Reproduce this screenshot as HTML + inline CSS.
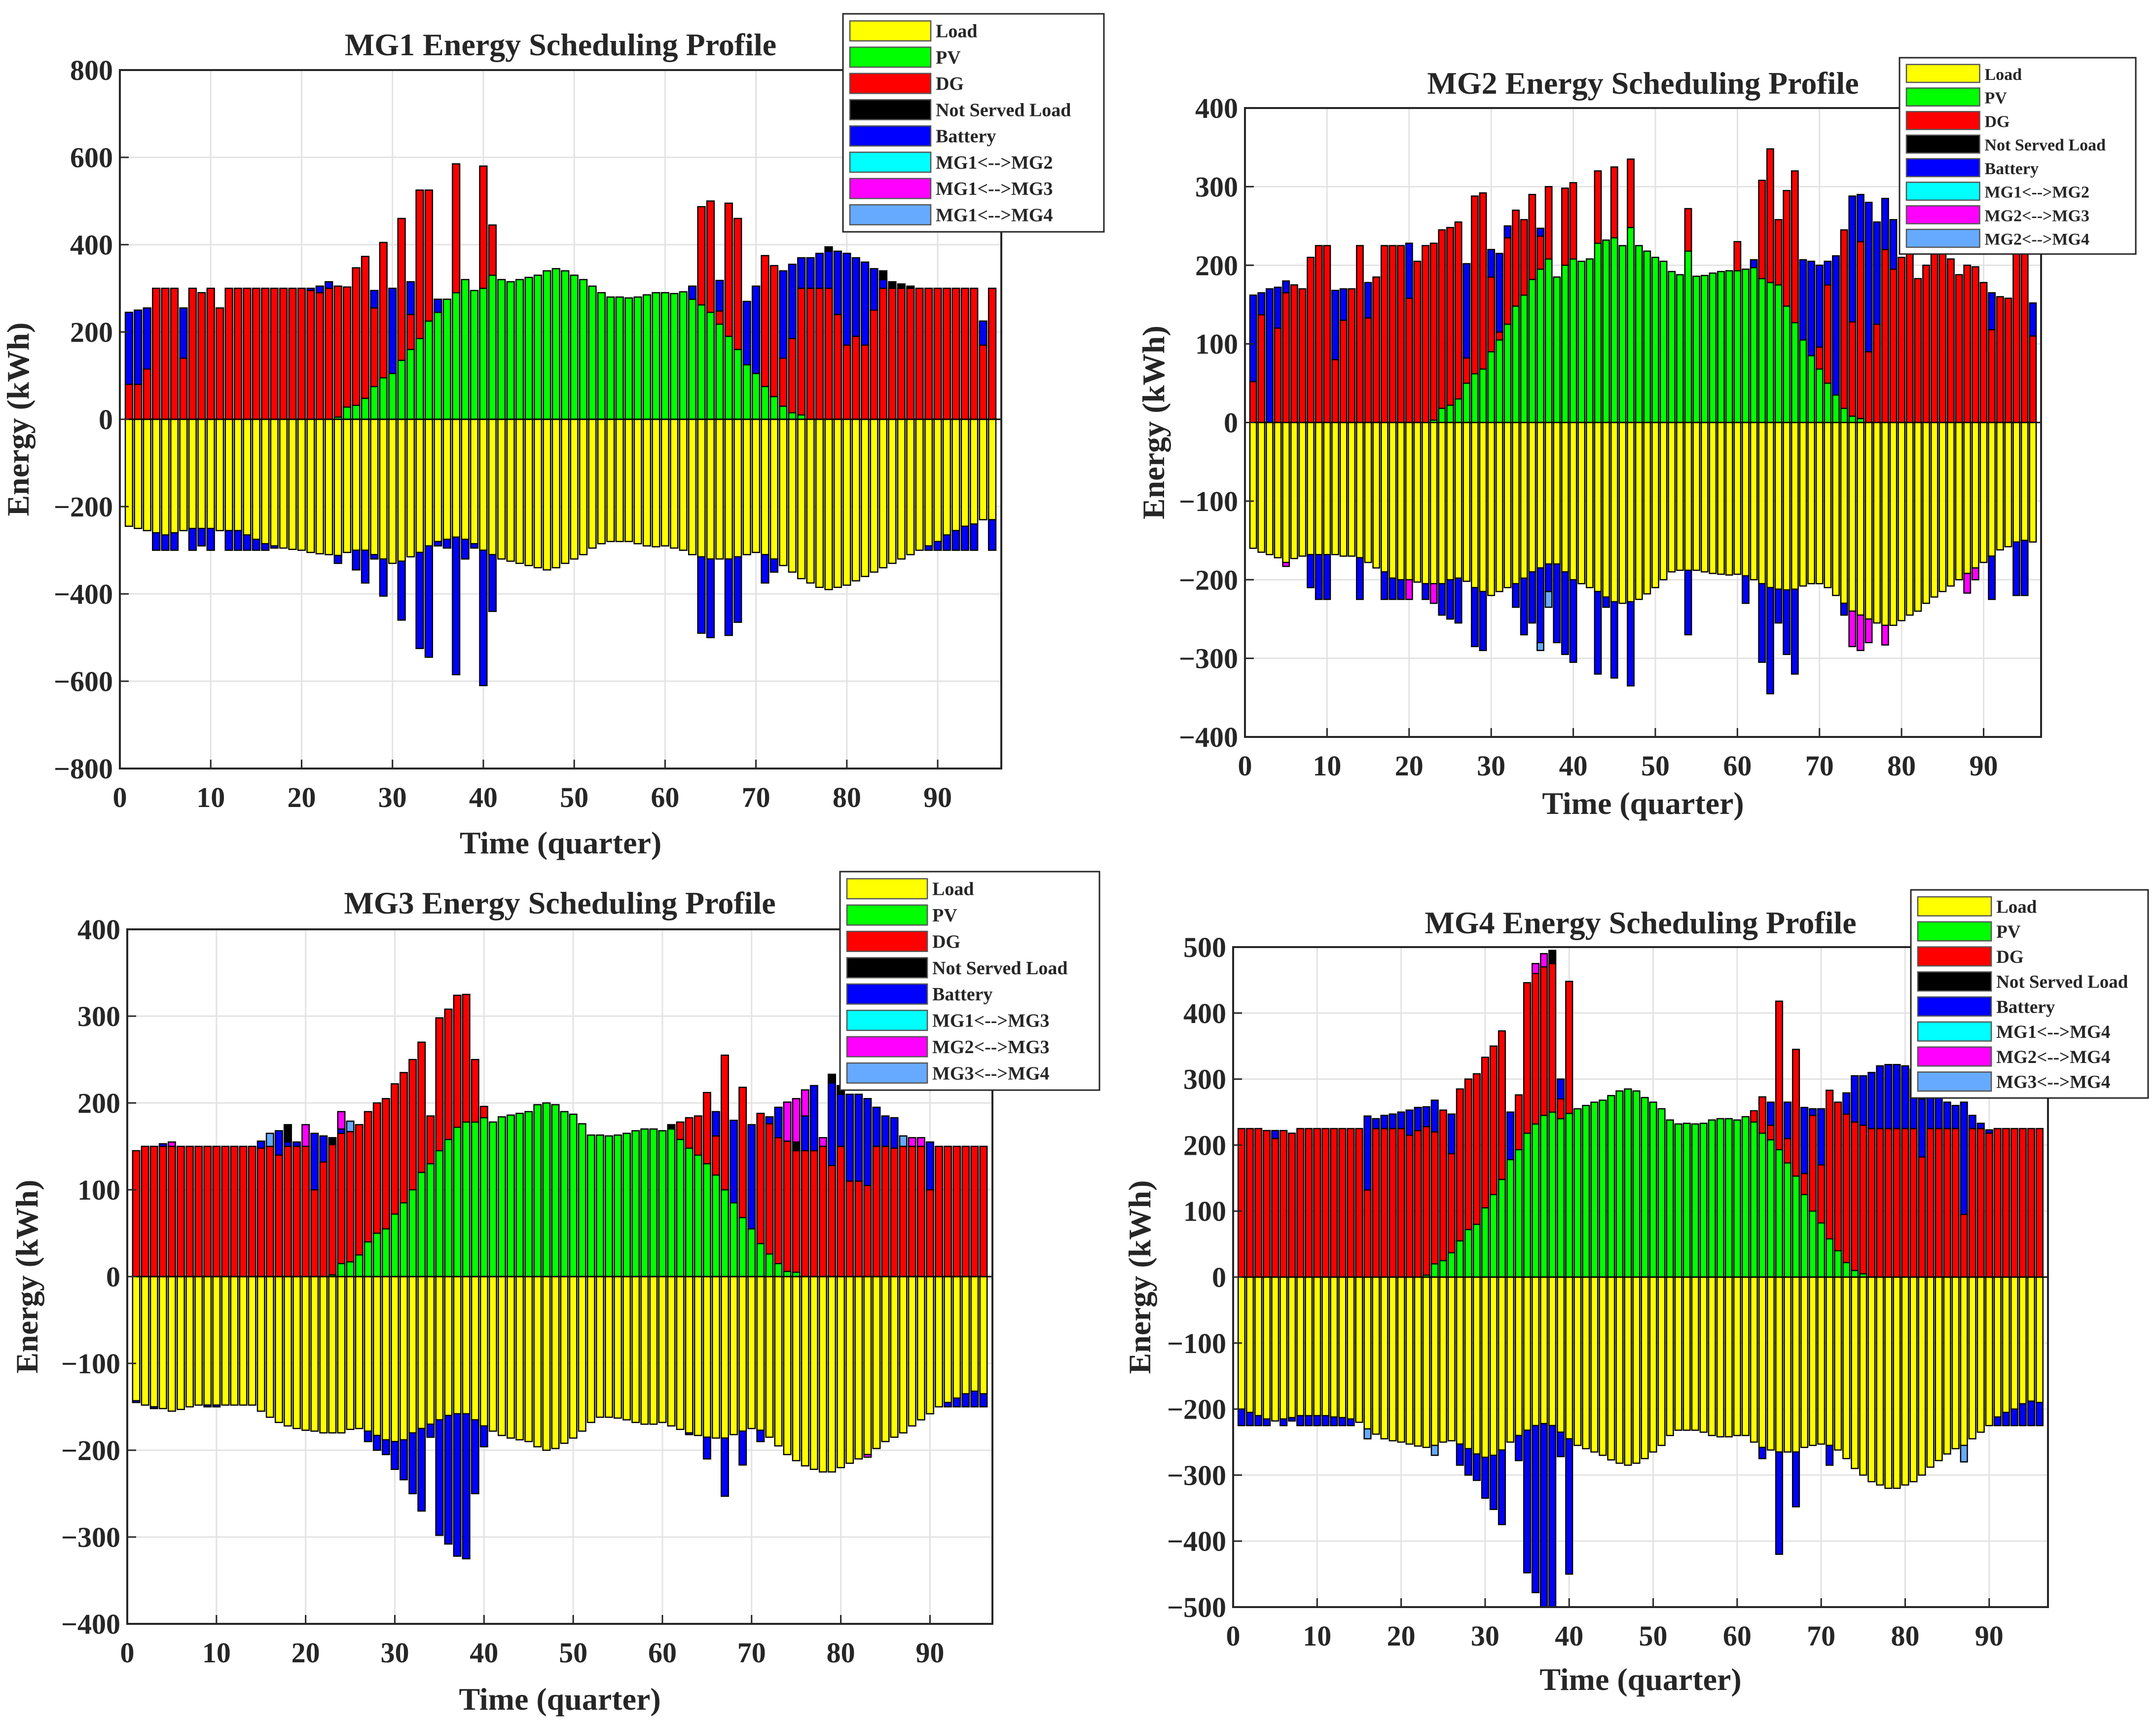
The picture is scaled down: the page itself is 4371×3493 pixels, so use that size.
<!DOCTYPE html>
<html><head><meta charset="utf-8"><style>
html,body{margin:0;padding:0;background:#fff;}
svg{display:block;}
text{font-family:"Liberation Serif",serif;font-weight:bold;fill:#262626;}
</style></head><body>
<svg id="fig" xmlns="http://www.w3.org/2000/svg" width="4371" height="3493" viewBox="0 0 4371 3493"></svg>
<script>
// ---------- MG1 data ----------
const mg1Load=[245,250,255,260,265,260,255,250,250,250,255,255,255,265,275,285,290,295,298,300,305,308,310,312,305,300,300,310,320,330,325,315,305,290,280,275,270,275,285,300,310,320,325,330,335,340,345,340,330,320,310,295,285,280,280,280,285,290,292,290,295,300,310,315,320,320,320,315,310,305,310,320,335,350,365,375,385,390,385,380,370,360,350,340,330,320,310,300,290,280,265,255,245,240,230,230];
const mg1Pv=[0,0,0,0,0,0,0,0,0,0,0,0,0,0,0,0,0,0,0,0,0,0,0,5,28,32,48,75,95,105,135,160,185,225,245,275,290,320,295,300,330,320,315,320,325,330,340,345,340,330,320,305,290,280,280,278,280,285,290,290,288,292,275,262,245,218,190,160,125,105,75,52,30,15,10,0,0,0,0,0,0,0,0,0,0,0,0,0,0,0,0,0,0,0,0,0];
const mg1Dg=[80,80,115,300,300,300,140,300,290,300,255,300,300,300,300,300,300,300,300,300,295,290,300,300,275,315,325,180,310,0,325,80,340,300,0,0,295,0,0,280,115,0,0,0,0,0,0,0,0,0,0,0,0,0,0,0,0,0,0,0,0,0,0,225,255,30,305,300,0,0,300,300,110,170,290,300,300,300,240,170,190,170,250,300,300,300,300,300,300,300,300,300,300,300,170,300];
const mg1BatDis=[[1,165],[2,170],[3,140],[7,115],[21,5],[22,15],[23,15],[28,40],[30,195],[32,75],[35,30],[63,30],[66,70],[69,145],[70,200],[73,200],[74,170],[75,70],[76,70],[77,80],[78,85],[79,145],[80,210],[81,180],[82,190],[83,95],[84,20],[95,55]];
const mg1Nsl=[[78,10],[84,20],[85,15],[86,10],[87,5]];
const mg1BatCh=[[4,40],[5,35],[6,40],[8,50],[9,40],[10,50],[12,45],[13,45],[14,35],[15,25],[16,15],[17,5],[24,18],[26,45],[27,75],[28,10],[29,85],[31,135],[33,220],[34,255],[35,10],[36,20],[37,315],[38,45],[39,10],[40,310],[41,130],[64,175],[65,180],[67,175],[68,150],[71,65],[72,30],[89,10],[90,20],[91,35],[92,45],[93,55],[94,60],[96,70]];
const mg1ExPos=[];const mg1ExNeg=[];const mg1Ex2Pos=[];const mg1Ex2Neg=[];

// ---------- MG2 data ----------
const mg2Load=[160,165,168,172,178,173,170,168,168,168,168,170,170,172,178,185,190,198,200,200,203,205,205,205,200,198,202,210,215,220,215,210,205,198,190,185,180,180,190,200,205,210,215,222,228,230,228,225,218,210,200,190,188,188,188,190,192,193,194,193,195,200,205,210,212,213,212,208,205,205,210,220,230,240,245,250,255,258,258,252,245,240,230,222,215,208,200,192,185,178,170,162,158,152,150,152];
const mg2Pv=[0,0,0,0,0,0,0,0,0,0,0,0,0,0,0,0,0,0,0,0,0,0,3,18,22,30,50,62,68,90,105,125,148,162,182,195,208,185,200,208,205,208,228,232,235,225,248,225,218,210,205,192,188,218,186,187,190,192,193,193,195,197,183,178,175,148,127,105,85,68,50,35,18,8,5,0,0,0,0,0,0,0,0,0,0,0,0,0,0,0,0,0,0,0,0,0];
const mg2Dg=[52,137,0,120,165,175,170,210,225,225,80,130,170,225,133,185,225,225,225,158,205,225,225,227,226,225,32,226,224,95,10,110,122,96,108,42,92,0,98,97,0,0,92,0,90,0,87,0,0,0,0,0,0,54,0,0,0,0,0,37,0,0,125,170,83,147,193,0,0,28,125,0,227,120,225,90,125,220,195,210,245,183,200,225,215,208,188,200,198,178,118,160,158,220,220,110];
const mg2BatDis=[[1,110],[2,28],[3,170],[4,52],[5,15],[11,88],[12,40],[15,45],[20,70],[27,120],[30,35],[31,100],[32,15],[36,10],[62,10],[68,102],[69,120],[70,104],[71,30],[72,177],[74,160],[75,60],[76,190],[77,130],[78,65],[79,63],[91,47],[96,42]];
const mg2Nsl=[];
const mg2BatCh=[[8,42],[9,57],[10,57],[14,53],[17,35],[18,27],[19,25],[22,20],[24,40],[25,50],[26,57],[28,75],[29,75],[33,30],[34,72],[35,65],[36,95],[37,35],[38,100],[39,105],[40,105],[43,105],[44,13],[45,97],[47,107],[54,82],[61,35],[63,100],[64,135],[65,43],[66,82],[67,108],[73,15],[91,55],[94,68],[95,70]];
const mg2ExPos=[];
const mg2ExNeg=[[5,5],[20,25],[23,25],[74,45],[75,45],[76,30],[78,25],[88,25],[89,15]];
const mg2Ex2Pos=[];
const mg2Ex2Neg=[[36,10],[37,20]];

// ---------- MG3 data ----------
const mg3Load=[143,148,150,152,155,153,150,148,148,148,148,148,148,148,155,162,168,172,175,177,178,180,180,180,176,175,178,183,188,190,188,180,175,170,165,160,158,158,165,172,178,183,186,188,190,196,200,198,192,186,178,168,162,162,163,165,168,170,170,168,172,176,180,183,185,186,186,182,178,175,177,185,195,205,212,218,222,225,225,220,215,210,205,198,190,185,180,172,165,158,150,145,140,135,132,135];
const mg3Pv=[0,0,0,0,0,0,0,0,0,0,0,0,0,0,0,0,0,0,0,0,0,0,2,15,17,25,40,50,55,72,85,100,120,130,145,158,172,178,178,183,178,184,186,188,190,198,200,198,190,187,176,163,163,162,163,165,168,170,170,168,170,158,148,140,130,117,100,85,68,55,38,26,15,6,5,0,0,0,0,0,0,0,0,0,0,0,0,0,0,0,0,0,0,0,0,0];
const mg3Dg=[145,150,150,150,150,150,150,150,150,150,150,150,150,150,148,150,140,150,150,150,100,132,150,150,150,150,150,150,150,150,150,150,150,55,153,150,152,147,72,13,0,0,0,0,0,0,0,0,0,0,0,0,0,0,0,0,0,0,0,0,0,20,35,45,82,45,155,0,150,0,150,150,145,150,140,145,145,150,128,150,110,110,105,150,150,148,150,150,150,100,150,150,150,150,150,150];
const mg3BatDis=[[4,3],[15,8],[17,28],[18,5],[19,5],[21,65],[22,30],[24,5],[66,28],[68,95],[70,120],[72,8],[73,35],[76,40],[77,75],[79,95],[80,60],[81,100],[82,100],[83,100],[84,45],[85,35],[86,35],[90,55]];
const mg3Nsl=[[18,20],[23,8],[61,5],[75,10],[79,10],[80,10]];
const mg3BatCh=[[1,2],[3,2],[9,2],[10,2],[27,12],[28,17],[29,17],[30,32],[31,46],[32,70],[33,95],[34,15],[35,133],[36,148],[37,164],[38,167],[39,85],[40,24],[63,2],[65,25],[67,67],[69,39],[71,13],[92,5],[93,10],[94,15],[95,18],[96,15]];
const mg3ExPos=[[5,5],[20,25],[24,20],[74,45],[75,50],[76,30],[78,10],[88,10],[89,10]];
const mg3ExNeg=[[83,3]];
const mg3Ex2Pos=[[16,15],[25,12],[87,12]];
const mg3Ex2Neg=[];

// ---------- MG4 data ----------
const mg4Load=[200,205,210,215,218,215,213,210,210,210,210,212,213,215,220,230,238,245,248,250,253,256,258,255,250,248,253,260,268,273,270,262,250,240,232,225,222,225,235,245,255,260,265,270,277,282,285,282,275,265,255,240,232,232,232,235,240,242,242,240,240,250,258,262,265,265,265,258,255,253,255,262,275,290,300,310,315,320,320,315,310,300,288,278,268,260,255,245,235,225,212,205,200,192,188,190];
const mg4Pv=[0,0,0,0,0,0,0,0,0,0,0,0,0,0,0,0,0,0,0,0,0,0,3,20,25,37,55,72,80,105,125,148,178,193,218,232,245,250,240,248,255,260,265,268,275,282,285,282,272,265,255,238,232,233,232,233,238,240,240,238,243,235,218,208,193,173,153,125,100,82,58,40,22,10,5,0,0,0,0,0,0,0,0,0,0,0,0,0,0,0,0,0,0,0,0,0];
const mg4Dg=[225,225,225,222,210,222,218,225,225,225,225,225,225,225,225,132,225,225,225,225,215,222,225,200,228,150,230,228,228,228,225,225,0,83,228,228,225,225,30,200,0,0,0,0,0,0,0,0,0,0,0,0,0,0,0,0,0,0,0,0,0,17,55,22,225,37,192,32,145,88,225,225,225,225,225,225,225,225,225,225,225,182,225,225,225,225,95,225,225,218,225,225,225,225,225,225];
const mg4BatDis=[[5,12],[16,112],[17,15],[18,20],[19,22],[20,25],[21,38],[22,35],[23,30],[24,48],[26,60],[33,72],[39,30],[64,35],[66,55],[68,100],[69,10],[70,85],[73,32],[74,70],[75,75],[76,85],[77,95],[78,97],[79,97],[80,95],[81,90],[82,88],[83,60],[84,50],[85,40],[86,35],[87,170],[88,20],[89,8],[90,5]];
const mg4Nsl=[[38,20]];
const mg4BatCh=[[1,25],[2,20],[3,15],[4,10],[6,10],[7,5],[8,15],[9,15],[10,15],[11,15],[12,13],[13,12],[14,10],[27,32],[28,40],[29,40],[30,62],[31,82],[32,113],[34,38],[35,216],[36,253],[37,278],[38,275],[39,37],[40,205],[63,17],[65,155],[67,83],[71,30],[91,13],[92,20],[93,25],[94,33],[95,37],[96,35]];
const mg4ExPos=[[36,15],[37,20]];
const mg4ExNeg=[];
const mg4Ex2Pos=[];
const mg4Ex2Neg=[[16,15],[24,15],[87,25]];

const xTicks=[0,10,20,30,40,50,60,70,80,90];

const COL={load:'#ffff00',pv:'#00ff00',dg:'#ff0000',nsl:'#000000',bat:'#0000ff',cyan:'#00ffff',mag:'#ff00ff',lb:'#66aaff'};
const NS='http://www.w3.org/2000/svg';
const svg=document.getElementById('fig');
function mk(tag,attrs,parent){const e=document.createElementNS(NS,tag);for(const k in attrs)e.setAttribute(k,attrs[k]);(parent||svg).appendChild(e);return e;}
function dense(pairs){const a=new Array(97).fill(0);pairs.forEach(p=>{a[p[0]]=p[1];});return a;}

const panels=[
 {id:'mg1',ax:[243,142,2030,1558],ymin:-800,ymax:800,step:200,title:'MG1 Energy Scheduling Profile',titleY:112,xlabY:1730,ylabX:58,
  leg:[1709,28,529,442],names:['Load','PV','DG','Not Served Load','Battery','MG1<-->MG2','MG1<-->MG3','MG1<-->MG4'],
  load:mg1Load,pv:mg1Pv,dg:mg1Dg,bd:mg1BatDis,nsl:mg1Nsl,bc:mg1BatCh,ep:mg1ExPos,en:mg1ExNeg,e2p:mg1Ex2Pos,e2n:mg1Ex2Neg},
 {id:'mg2',ax:[2524,219,4138,1494],ymin:-400,ymax:400,step:100,title:'MG2 Energy Scheduling Profile',titleY:190,xlabY:1650,ylabX:2360,
  leg:[3851,117,479,398],names:['Load','PV','DG','Not Served Load','Battery','MG1<-->MG2','MG2<-->MG3','MG2<-->MG4'],
  load:mg2Load,pv:mg2Pv,dg:mg2Dg,bd:mg2BatDis,nsl:mg2Nsl,bc:mg2BatCh,ep:mg2ExPos,en:mg2ExNeg,e2p:mg2Ex2Pos,e2n:mg2Ex2Neg},
 {id:'mg3',ax:[258,1884,2012,3292],ymin:-400,ymax:400,step:100,title:'MG3 Energy Scheduling Profile',titleY:1852,xlabY:3466,ylabX:76,
  leg:[1703,1767,526,443],names:['Load','PV','DG','Not Served Load','Battery','MG1<-->MG3','MG2<-->MG3','MG3<-->MG4'],
  load:mg3Load,pv:mg3Pv,dg:mg3Dg,bd:mg3BatDis,nsl:mg3Nsl,bc:mg3BatCh,ep:mg3ExPos,en:mg3ExNeg,e2p:mg3Ex2Pos,e2n:mg3Ex2Neg},
 {id:'mg4',ax:[2500,1920,4152,3258],ymin:-500,ymax:500,step:100,title:'MG4 Energy Scheduling Profile',titleY:1892,xlabY:3426,ylabX:2332,
  leg:[3874,1804,481,422],names:['Load','PV','DG','Not Served Load','Battery','MG1<-->MG4','MG2<-->MG4','MG3<-->MG4'],
  load:mg4Load,pv:mg4Pv,dg:mg4Dg,bd:mg4BatDis,nsl:mg4Nsl,bc:mg4BatCh,ep:mg4ExPos,en:mg4ExNeg,e2p:mg4Ex2Pos,e2n:mg4Ex2Neg}
];

panels.forEach(P=>{
  const [x0,y0,x1,y1]=P.ax;
  const xs=v=>x0+(v/97)*(x1-x0);
  const ys=v=>y1-(v-P.ymin)/(P.ymax-P.ymin)*(y1-y0);
  const g=mk('g',{});
  
  
  mk('rect',{x:x0,y:y0,width:x1-x0,height:y1-y0,fill:'#fff'},g);
  // grid
  xTicks.forEach(t=>{if(t>0)mk('line',{x1:xs(t),x2:xs(t),y1:y0,y2:y1,stroke:'#e3e3e3','stroke-width':3},g);});
  for(let v=P.ymin;v<=P.ymax;v+=P.step){mk('line',{x1:x0,x2:x1,y1:ys(v),y2:ys(v),stroke:'#e3e3e3','stroke-width':3},g);}
  // bars
  const bw=0.8*(x1-x0)/97;
  const bd=dense(P.bd),nsl=dense(P.nsl),bc=dense(P.bc),ep=dense(P.ep),en=dense(P.en),e2p=dense(P.e2p),e2n=dense(P.e2n);
  const bars=mk('g',{},g);
  
  
  function seg(i,a,b,c,name){
    if(b===a)return;
    const r=mk('rect',{x:xs(i)-bw/2,y:ys(Math.max(a,b)),width:bw,height:Math.abs(ys(a)-ys(b)),fill:c,stroke:'#000','stroke-width':2.5},bars);
    
    
  }
  for(let i=1;i<=96;i++){
    let top=0;
    const pos=[[P.pv[i-1],COL.pv,'pv-bar'],[P.dg[i-1],COL.dg,'dg-bar'],[bd[i],COL.bat,'battery-discharge-bar'],[nsl[i],COL.nsl,'not-served-load-bar'],[ep[i],COL.mag,'exchange-import-bar'],[e2p[i],COL.lb,'exchange-import-bar']];
    pos.forEach(s=>{if(s[0]>0){seg(i,top,top+s[0],s[1],s[2]);top+=s[0];}});
    let bot=0;
    const neg=[[P.load[i-1],COL.load,'load-bar'],[bc[i],COL.bat,'battery-charge-bar'],[en[i],COL.mag,'exchange-export-bar'],[e2n[i],COL.lb,'exchange-export-bar']];
    neg.forEach(s=>{if(s[0]>0){seg(i,bot,bot-s[0],s[1],s[2]);bot-=s[0];}});
  }
  mk('line',{x1:x0,x2:x1,y1:ys(0),y2:ys(0),stroke:'#000','stroke-width':3},g);
  // axes box
  mk('rect',{x:x0,y:y0,width:x1-x0,height:y1-y0,fill:'none',stroke:'#262626','stroke-width':4},g);
  // ticks & labels
  xTicks.forEach(t=>{
    mk('line',{x1:xs(t),x2:xs(t),y1:y1,y2:y1-18,stroke:'#262626','stroke-width':3},g);
    const tx=mk('text',{x:xs(t),y:y1+78,'text-anchor':'middle','font-size':58},g);tx.textContent=t;
    
    
  });
  for(let v=P.ymin;v<=P.ymax;v+=P.step){
    mk('line',{x1:x0,x2:x0+18,y1:ys(v),y2:ys(v),stroke:'#262626','stroke-width':3},g);
    const tx=mk('text',{x:x0-14,y:ys(v)+20,'text-anchor':'end','font-size':58},g);tx.textContent=(v<0?'\u2212':'')+Math.abs(v);
    
    
  }
  const ti=mk('text',{x:(x0+x1)/2,y:P.titleY,'text-anchor':'middle','font-size':64,fill:'#000'},g);ti.textContent=P.title;
  
  
  const xl=mk('text',{x:(x0+x1)/2,y:P.xlabY,'text-anchor':'middle','font-size':64},g);xl.textContent='Time (quarter)';
  
  
  const yc=(y0+y1)/2;
  const yl=mk('text',{x:P.ylabX,y:yc,'text-anchor':'middle','font-size':64,transform:'rotate(-90 '+P.ylabX+' '+yc+')'},g);yl.textContent='Energy (kWh)';
  
  
  // legend
  const [lx,ly,lw,lh]=P.leg;
  const lg=mk('g',{},g);
  
  
  mk('rect',{x:lx,y:ly,width:lw,height:lh,fill:'#fff',stroke:'#262626','stroke-width':3},lg);
  const cols=[COL.load,COL.pv,COL.dg,COL.nsl,COL.bat,COL.cyan,COL.mag,COL.lb];
  const rh=(lh-16)/8, sw=lw*0.31;
  P.names.forEach((n,k)=>{
    const cy=ly+8+rh*k+rh/2;
    const e=mk('g',{},lg);
    
    
    mk('rect',{x:lx+14,y:cy-rh*0.38,width:sw,height:rh*0.76,fill:cols[k],stroke:'#555','stroke-width':2.5},e);
    const t=mk('text',{x:lx+24+sw,y:cy+13,'font-size':Math.round(rh*0.72),fill:'#000'},e);t.textContent=n;
  });
});
</script>
</body></html>
